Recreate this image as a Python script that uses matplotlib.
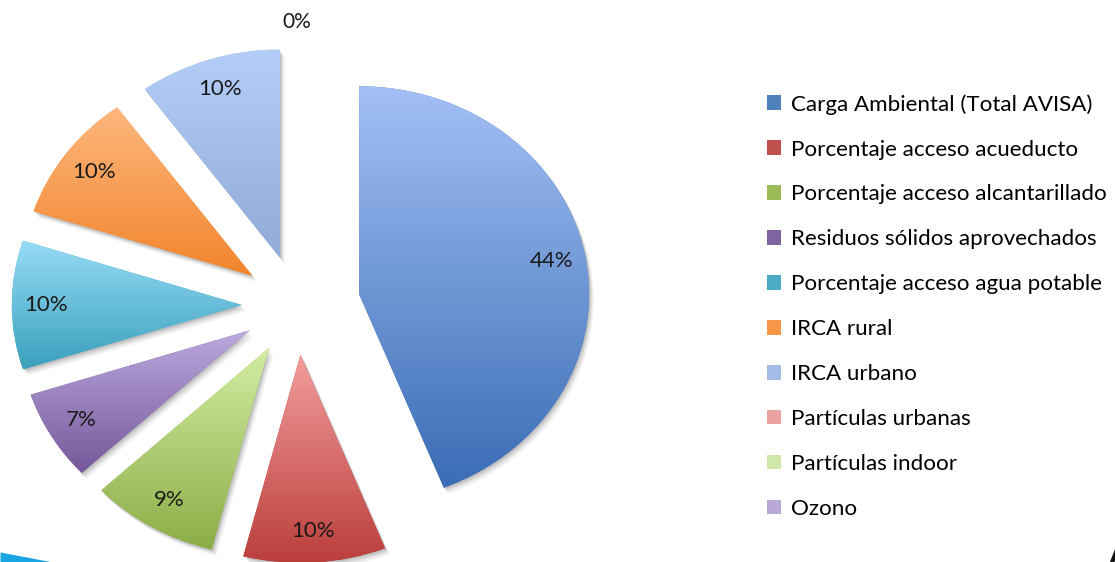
import numpy as np
import matplotlib
matplotlib.use("Agg")
import matplotlib.pyplot as plt
from matplotlib.colors import LinearSegmentedColormap
from matplotlib.patches import PathPatch
from matplotlib.transforms import Affine2D

# data
categorias = ["Carga Ambiental (Total AVISA)", "Porcentaje acceso acueducto",
              "Porcentaje acceso alcantarillado", "Residuos sólidos aprovechados",
              "Porcentaje acceso agua potable", "IRCA rural", "IRCA urbano",
              "Partículas urbanas", "Partículas indoor", "Ozono"]
valores = [44, 10, 9, 7, 10, 10, 10, 0, 0, 0]

# colours: legend colour, gradient top, gradient bottom
base = ["#4f81bd", "#c0504d", "#9bbb59", "#8064a2", "#4bacc6", "#f79646",
        "#a4bde6", "#eba3a2", "#cfe8a9", "#b9a9d6"]
tops = ["#a3c0f5", "#f29e9d", "#d3eda3", "#bba9de", "#97dcf6", "#fdb77e",
        "#b5cdf9", "#f2b9b8", "#dff2c4", "#d0c4ea"]
bots = ["#3a6db5", "#bb3e3b", "#8cad46", "#76589a", "#3aa0bd", "#f2842c",
        "#90abd8", "#d88a89", "#b6d48e", "#9f8fc2"]
explode = [0.275, 0.24, 0.24, 0.24, 0.24, 0.24, 0.24, 0.24, 0.24, 0.24]

plt.rcParams['font.family'] = ['Lato', 'DejaVu Sans']

W, H = 1115, 562
cx, cy = 297, 305      # pie centre in pixels
rx, ry = 230, 208      # pie radius in pixels (slightly stretched picture)

fig = plt.figure(figsize=(W / 100, H / 100), dpi=100)
bg = fig.add_axes([0, 0, 1, 1])
bg.set_xlim(0, W)
bg.set_ylim(H, 0)
bg.axis('off')
# decoration of the slide at the bottom left / right
xs = np.linspace(0, 58, 30)
bg.fill_between(xs, 552 + (xs / 58) * 11, H + 1, color="#19a4e2", lw=0)
bg.text(1104, 548, "A", fontsize=26, fontweight='bold', va='top', ha='left', color='#111111')

ax = fig.add_axes([0, 0, 1, 1])
ax.patch.set_alpha(0)
wedges, texts, autotexts = ax.pie(
    valores, colors=base, startangle=90, counterclock=False,
    explode=explode, autopct=lambda p: f"{p:.0f}%",
    pctdistance=0.85, wedgeprops=dict(edgecolor='none', linewidth=0),
    textprops=dict(fontsize=16, color='#1a1a1a'))
ax.set_aspect('auto')

grad = np.linspace(1, 0, 256).reshape(-1, 1)
for i, w in enumerate(wedges):
    if valores[i] == 0:
        continue
    path = w.get_path()
    # soft shadow
    for k, a in [(1, 0.10), (2, 0.08), (3, 0.06), (4, 0.04)]:
        sh = path.transformed(Affine2D().translate(1.2 * k / rx, -1.6 * k / ry))
        ax.add_patch(PathPatch(sh, facecolor='black', alpha=a, lw=0, zorder=0.5))
    ext = path.get_extents()
    cmap = LinearSegmentedColormap.from_list("g%d" % i, [bots[i], tops[i]])
    im = ax.imshow(grad, cmap=cmap, extent=(ext.x0, ext.x1, ext.y0, ext.y1),
                   aspect='auto', origin='upper', zorder=1.5, vmin=0, vmax=1)
    im.set_clip_path(w)
    w.set_zorder(1.4)

for t in autotexts:
    t.set_zorder(3)
# the three 0% labels fall on the same spot above the pie: show one
ceros = [i for i, v in enumerate(valores) if v == 0]
for j, i in enumerate(ceros):
    w = wedges[i]
    ang = np.deg2rad((w.theta1 + w.theta2) / 2)
    cxw, cyw = w.center
    autotexts[i].set_position((cxw + 1.12 * np.cos(ang), cyw + 1.12 * np.sin(ang)))
    autotexts[i].set_fontsize(15)
    if j > 0:
        autotexts[i].set_visible(False)

ax.set_xlim(-cx / rx, (W - cx) / rx)
ax.set_ylim(-(H - cy) / ry, cy / ry)
ax.axis('off')

fig.legend(handles=wedges, labels=categorias, loc='upper left',
           bbox_to_anchor=(767 / W, 1 - 94 / H), frameon=False, fontsize=16.1,
           handlelength=0.62, handleheight=0.62, handletextpad=0.45,
           labelspacing=1.115, borderpad=0, borderaxespad=0)

fig.savefig("out.png", dpi=100)
